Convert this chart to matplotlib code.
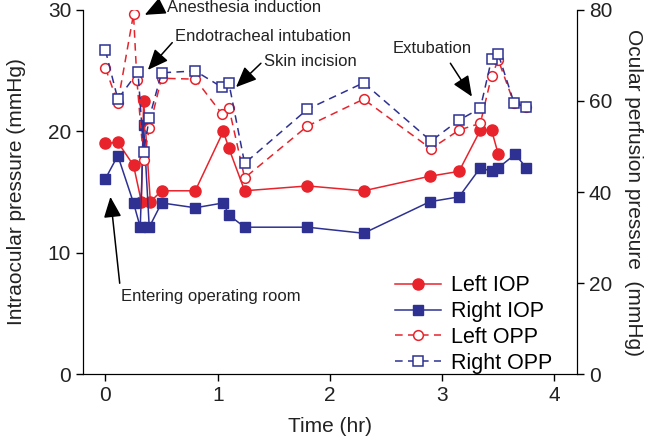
import numpy as np
import matplotlib.pyplot as plt

plt.rcParams['font.family'] = ['Liberation Sans', 'DejaVu Sans']

# time (hr)
t_left_iop = [0, 0.11, 0.25, 0.32, 0.34, 0.40, 0.50, 0.80, 1.05, 1.10, 1.24, 1.80, 2.30, 2.89, 3.15, 3.34, 3.44, 3.50]
left_iop = [19.0, 19.1, 17.2, 14.2, 22.5, 14.2, 15.1, 15.1, 20.0, 18.6, 15.1, 15.5, 15.1, 16.3, 16.7, 20.1, 20.1, 18.1]

t_right_iop = [0, 0.11, 0.25, 0.31, 0.34, 0.39, 0.50, 0.80, 1.05, 1.10, 1.24, 1.80, 2.30, 2.89, 3.15, 3.34, 3.44, 3.50, 3.65, 3.75]
right_iop = [16.1, 18.0, 14.1, 12.1, 20.5, 12.1, 14.1, 13.7, 14.1, 13.1, 12.1, 12.1, 11.6, 14.2, 14.6, 17.0, 16.7, 17.0, 18.1, 17.0]

t_left_opp = [0, 0.11, 0.25, 0.28, 0.34, 0.39, 0.50, 0.80, 1.04, 1.10, 1.24, 1.80, 2.30, 2.90, 3.15, 3.34, 3.44, 3.50, 3.64, 3.75]
left_opp = [67.2, 59.6, 79.1, 64.6, 47.0, 54.0, 65.0, 64.8, 57.1, 58.5, 43.1, 54.5, 60.4, 49.5, 53.6, 55.1, 65.5, 69.0, 59.5, 58.6]

t_right_opp = [0, 0.11, 0.29, 0.34, 0.39, 0.50, 0.80, 1.04, 1.10, 1.24, 1.80, 2.30, 2.90, 3.15, 3.34, 3.44, 3.50, 3.64, 3.75]
right_opp = [71.1, 60.4, 66.4, 48.9, 56.2, 66.2, 66.6, 63.0, 63.9, 46.3, 58.2, 64.0, 51.2, 55.8, 58.4, 69.2, 70.3, 59.6, 58.6]

red = '#e8232b'
blue = '#2e3192'

fig = plt.figure(figsize=(6.46, 4.46), dpi=100)
ax = fig.add_axes([0.1285, 0.1614, 0.7645, 0.8162])
ax2 = ax.twinx()

l1, = ax.plot(t_left_iop, left_iop, '-o', color=red, lw=1.1, ms=8, label='Left IOP')
l2, = ax.plot(t_right_iop, right_iop, '-s', color=blue, lw=1.1, ms=7, label='Right IOP')
l3, = ax2.plot(t_left_opp, left_opp, '--o', color=red, lw=1.1, ms=7, mfc='white', mew=1.1,
               dashes=(5, 3.5), label='Left OPP')
l4, = ax2.plot(t_right_opp, right_opp, '--s', color=blue, lw=1.1, ms=6.5, mfc='white', mew=1.1,
               dashes=(5, 3.5), label='Right OPP')

ax.set_xlim(-0.2, 4.2)
ax.set_ylim(0, 30)
ax2.set_ylim(0, 80)
ax.set_xticks([0, 1, 2, 3, 4])
ax.set_yticks([0, 10, 20, 30])
ax2.set_yticks([0, 20, 40, 60, 80])
for a in (ax, ax2):
    a.spines['top'].set_visible(False)
    a.tick_params(direction='out', length=5, width=1, labelsize=15, colors='k', labelcolor='#222222')
ax.set_xlabel('Time (hr)', fontsize=15, labelpad=9, color='#222222')
ax.set_ylabel('Intraocular pressure (mmHg)', fontsize=15, labelpad=16, color='#222222')
ax2.set_ylabel('Ocular perfusion pressure  (mmHg)', fontsize=15, rotation=270, labelpad=22,
               color='#222222')

ax2.legend(handles=[l1, l2, l3, l4], loc='lower right', bbox_to_anchor=(0.99, -0.052),
           frameon=False, fontsize=15.5, handlelength=2.1, handletextpad=0.5, labelspacing=0.22)

arrow = dict(arrowstyle='-|>,head_length=0.7,head_width=0.3', color='k', lw=1.1,
             mutation_scale=18, shrinkA=0, shrinkB=0)
notes = [
    ('Anesthesia induction', (0.35, 29.6), (0.50, 30.3), (0.545, 30.2), 'left'),
    ('Endotracheal intubation', (0.378, 25.06), (0.595, 27.31), (0.624, 27.8), 'left'),
    ('Skin incision', (1.163, 23.64), (1.385, 25.61), (1.415, 25.75), 'left'),
    ('Extubation', (3.265, 22.86), (3.073, 25.61), (2.91, 26.85), 'center'),
    ('Entering operating room', (0.044, 14.6), (0.127, 7.48), (0.142, 6.37), 'left'),
]
for text, head, tail, pos, ha in notes:
    ax2.annotate('', xy=ax.transData.transform(head), xycoords='figure pixels',
                 xytext=ax.transData.transform(tail), textcoords='figure pixels',
                 arrowprops=arrow)
    ax.text(pos[0], pos[1], text, fontsize=12, ha=ha, va='center', color='#222222', clip_on=False)

fig.savefig('out.png', dpi=100)
